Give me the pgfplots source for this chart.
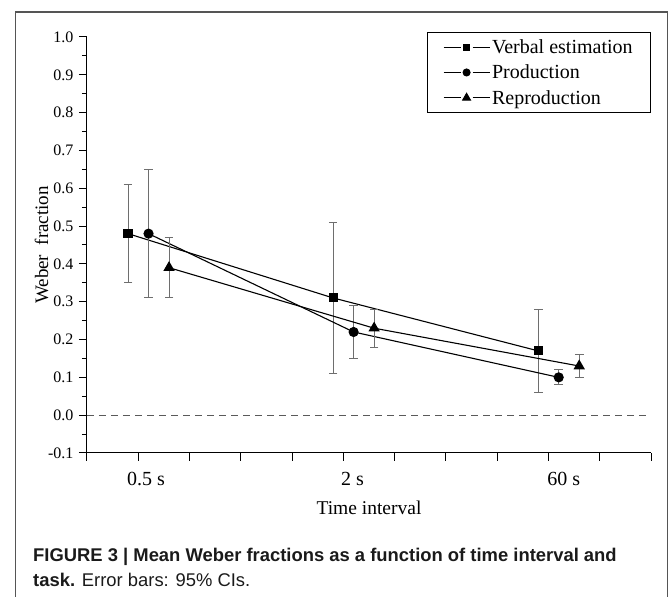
\documentclass[border=0pt]{standalone}
\usepackage{fontspec}
\setmainfont{Liberation Serif}
\newfontfamily\capfont{Liberation Sans}
\usepackage{pgfplots}
\pgfplotsset{compat=1.18}
\definecolor{ebgray}{HTML}{6E6E6E}
\definecolor{framegray}{HTML}{555555}
\definecolor{captext}{HTML}{1A1A1A}
\definecolor{zerogray}{HTML}{5A5A5A}

\begin{document}
\begin{tikzpicture}[x=1pt,y=1pt]
\useasboundingbox (0,0) rectangle (670,597);
\draw[framegray, line width=1.3pt] (15.5,-3) -- (15.5,585) -- (667.5,585) -- (667.5,-3);
\begin{axis}[
  at={(87pt,144pt)}, anchor=south west,
  scale only axis, width=564pt, height=416pt,
  xmin=0, xmax=11, ymin=-0.1, ymax=1.0,
  axis lines*=left,
  axis line style={black, line width=1pt},
  tick style={black, line width=1pt},
  tick align=outside,
  major tick length=8pt, minor tick length=5pt,
  xtick={0,1,2,3,4,5,6,7,8,9,10,11},
  xticklabels={},
  extra x ticks={1.15,5.18,9.3},
  extra x tick labels={0.5 s,2 s,60 s},
  extra x tick style={major tick length=0pt, xticklabel style={anchor=base, yshift=-33pt, font=\fontsize{20}{22}\selectfont}},
  ytick={-0.1,0,0.1,0.2,0.3,0.4,0.5,0.6,0.7,0.8,0.9,1.0},
  minor y tick num=1,
  /pgf/number format/assume math mode=true,
  yticklabel style={/pgf/number format/fixed, /pgf/number format/fixed zerofill, /pgf/number format/precision=1, font=\fontsize{16}{17}\selectfont, xshift=-2pt},
  xlabel={Time interval},
  xlabel style={at={(axis description cs:0.5,-0.149)}, anchor=base, font=\fontsize{19.5}{22}\selectfont},
  ylabel={Weber~ fraction},
  ylabel style={at={(axis description cs:-0.0691,0.5)}, anchor=base, font=\fontsize{19}{22}\selectfont},
  legend style={at={(rel axis cs:1,1.012)}, anchor=north east, draw=black, line width=0.8pt,
    font=\fontsize{20}{22}\selectfont, row sep=6pt, cells={anchor=west}, inner xsep=16pt, inner ysep=5pt},
  legend image code/.code={\draw[#1, mark=none] (0pt,0pt) -- (17pt,0pt) (29pt,0pt) -- (46pt,0pt); \path[#1] plot coordinates {(23pt,0pt)};},
  clip=false,
]
\addplot[zerogray, line width=0.9pt, dash pattern=on 7pt off 5pt, forget plot] coordinates {(0,0) (11,0)};

\addplot[black, line width=1.1pt, mark=square*, mark size=4pt, mark options={solid, fill=black}, forget plot,
  error bars/.cd, y dir=both, y explicit,
  error bar style={ebgray, line width=1pt},
  error mark options={rotate=90, ebgray, mark size=4.3pt, line width=1pt}]
  table[x=x, y=y, y error plus=ep, y error minus=em] {
x y ep em
0.8 0.48 0.13 0.13
4.8 0.31 0.20 0.20
8.8 0.17 0.11 0.11
};
\addplot[black, line width=1.1pt, mark=*, mark size=4.5pt, mark options={solid, fill=black}, forget plot,
  error bars/.cd, y dir=both, y explicit,
  error bar style={ebgray, line width=1pt},
  error mark options={rotate=90, ebgray, mark size=4.3pt, line width=1pt}]
  table[x=x, y=y, y error plus=ep, y error minus=em] {
x y ep em
1.2 0.48 0.17 0.17
5.2 0.22 0.07 0.07
9.2 0.10 0.02 0.02
};
\addplot[black, line width=1.1pt, mark=triangle*, mark size=5.5pt, mark options={solid, fill=black}, forget plot,
  error bars/.cd, y dir=both, y explicit,
  error bar style={ebgray, line width=1pt},
  error mark options={rotate=90, ebgray, mark size=4.3pt, line width=1pt}]
  table[x=x, y=y, y error plus=ep, y error minus=em] {
x y ep em
1.6 0.39 0.08 0.08
5.6 0.23 0.05 0.05
9.6 0.13 0.03 0.03
};
\addlegendimage{black, line width=1pt, mark=square*, mark size=3pt, mark options={solid, fill=black}}
\addlegendentry{Verbal estimation}
\addlegendimage{black, line width=1pt, mark=*, mark size=3.5pt, mark options={solid, fill=black}}
\addlegendentry{Production}
\addlegendimage{black, line width=1pt, mark=triangle*, mark size=4.5pt, mark options={solid, fill=black}}
\addlegendentry{Reproduction}
\end{axis}
\node[anchor=base west, inner sep=0pt, text=captext, font=\capfont\bfseries\fontsize{18.4}{22}\selectfont] at (33,35) {FIGURE 3 | Mean Weber fractions as a function of time interval and};
\node[anchor=base west, inner sep=0pt, text=captext, font=\capfont\fontsize{18.4}{22}\selectfont] at (33,10) {\textbf{task.} Error bars: 95\% CIs.};
\end{tikzpicture}
\end{document}
